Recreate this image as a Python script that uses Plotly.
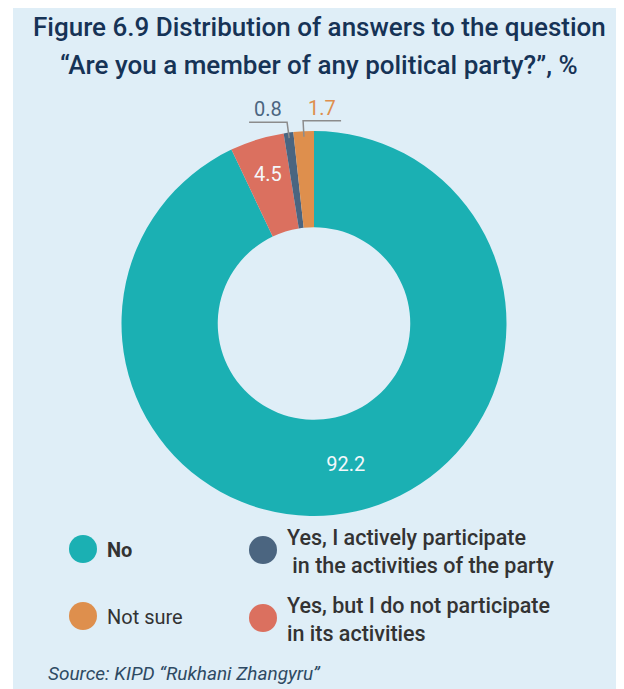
import math
import plotly.graph_objects as go

# page has an 8px body margin, so the figure is drawn 8px smaller and all
# reference pixel positions are shifted by OFF
OFF = 8
W, H = 624 - OFF, 689 - OFF

# ---- data ----
categories = ["No", "Yes, but I do not participate in its activities",
              "Yes, I actively participate in the activities of the party", "Not sure"]
values = [92.2, 4.5, 0.8, 1.7]
colors = ["#1BB0B3", "#DB705F", "#4B6580", "#DE8F4D"]
inside_text = ["%{value}", "", "", ""]

legend_rows = [
    ("<b>No</b>", 0),
    ("Not sure", 3),
    ("Yes, I actively participate<br> in the activities of the party", 2),
    ("Yes, but I do not participate<br>in its activities", 1),
]

title_lines = ["Figure 6.9 Distribution of answers to the question",
               "\u201cAre you a member of any political party?\u201d, %"]
source = "Source: KIPD \u201cRukhani Zhangyru\u201d"

# ---- pie geometry (reference pixels) ----
px0, px1 = 121, 507
py0, py1 = 131, 516
R = (px1 - px0) / 2
cx, cy = (px0 + px1) / 2, (py0 + py1) / 2


def to_paper(x, y):
    return (x - OFF) / W, 1 - (y - OFF) / H


fig = go.Figure()
dx0, dy1 = to_paper(px0, py0)
dx1, dy0 = to_paper(px1, py1)
fig.add_trace(go.Pie(
    labels=categories, values=values, sort=False, direction="clockwise", rotation=0,
    hole=0.5, marker=dict(colors=colors, line=dict(width=0)),
    texttemplate=inside_text, textposition="inside", insidetextorientation="horizontal",
    textfont=dict(family="Roboto", size=20, color="#F4F8FB"),
    domain=dict(x=[dx0, dx1], y=[dy0, dy1]),
    showlegend=False, hoverinfo="label+value",
))

bx0, by1 = to_paper(13, 7)
shapes = [dict(type="rect", xref="paper", yref="paper", x0=bx0, x1=1, y0=0, y1=by1,
               fillcolor="#DFEEF7", line=dict(width=0), layer="below")]
annotations = []

# slice labels: 4.5 inside near the outer edge, small slices outside with elbow leaders
total = sum(values)
cum = 0
for i, v in enumerate(values):
    mid = (cum + v / 2) / total * 2 * math.pi
    cum += v
    if i == 0:
        continue
    if i == 1:
        lx, ly = to_paper(cx + math.sin(mid) * R * 0.81, cy - math.cos(mid) * R * 0.81)
        annotations.append(dict(x=lx, y=ly, xref="paper", yref="paper", text=str(v), showarrow=False,
                                xanchor="center", yanchor="middle",
                                font=dict(family="Roboto", size=20, color="#F4F8FB")))
        continue
    side = -1 if i == 2 else 1
    x_in, y_in = cx + math.sin(mid) * (R - 6), cy - math.cos(mid) * (R - 6)
    x_el, y_el = cx + math.sin(mid) * (R + 10), cy - math.cos(mid) * (R + 10)
    x_end = x_el + side * 38
    pts = [to_paper(x_in, y_in), to_paper(x_el, y_el), to_paper(x_end, y_el)]
    path = "M {} {} L {} {} L {} {}".format(*[c for p in pts for c in p])
    shapes.append(dict(type="path", xref="paper", yref="paper", path=path,
                       line=dict(color="#8C8C8C", width=1.5)))
    lx, ly = to_paper((x_el + x_end) / 2, y_el - 13)
    annotations.append(dict(x=lx, y=ly, xref="paper", yref="paper", text=str(v), showarrow=False,
                            xanchor="center", yanchor="middle",
                            font=dict(family="Roboto", size=20, color=colors[i])))

# custom legend
legend_pos = [(83, 549), (83, 616), (263, 550), (263, 618)]
for (txt, ci), (lx, ly) in zip(legend_rows, legend_pos):
    cx0, cy1 = to_paper(lx - 14, ly - 14)
    cx1, cy0 = to_paper(lx + 14, ly + 14)
    shapes.append(dict(type="circle", xref="paper", yref="paper",
                       x0=cx0, x1=cx1, y0=cy0, y1=cy1,
                       fillcolor=colors[ci], line=dict(width=0)))
    ax, ay = to_paper(lx + 22, ly + 1)
    weight = 400 if ci == 3 else 500
    size = 20 if ci in (0, 3) else 21.5
    annotations.append(dict(x=ax, y=ay, xref="paper", yref="paper", text=txt, showarrow=False,
                            xanchor="left", yanchor="middle", align="left",
                            font=dict(family="Roboto", size=size, color="#333333", weight=weight)))

sx, sy = to_paper(46, 673)
annotations.append(dict(x=sx, y=sy, xref="paper", yref="paper", text="<i>" + source + "</i>",
                        showarrow=False, xanchor="left", yanchor="middle",
                        font=dict(family="Roboto", size=19, color="#2E4A63")))

for line, ypix in zip(title_lines, [27, 65]):
    tx, ty = to_paper(319, ypix)
    annotations.append(dict(x=tx, y=ty, xref="paper", yref="paper", text=line, showarrow=False,
                            xanchor="center", yanchor="middle",
                            font=dict(family="Roboto", size=26, color="#163356", weight=500)))

fig.update_layout(
    width=W, height=H, margin=dict(l=0, r=0, t=0, b=0),
    paper_bgcolor="white", plot_bgcolor="white",
    shapes=shapes, annotations=annotations,
)

fig.write_html("out.html")
